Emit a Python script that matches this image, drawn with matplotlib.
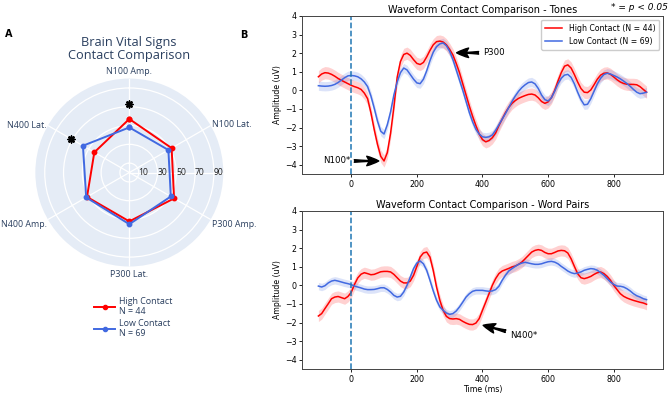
import numpy as np
import matplotlib
matplotlib.use("Agg")
import matplotlib.pyplot as plt
from matplotlib.lines import Line2D

# ---- radar data (panel A) ----
radar_labels = ["N100 Amp.", "N100 Lat.", "P300 Amp.", "P300 Lat.", "N400 Amp.", "N400 Lat."]
radar_high = [57, 52, 55, 52, 52, 43]
radar_low = [48, 48, 51, 55, 53, 57]
radar_ticks = [10, 30, 50, 70, 90]
star_idx = [0, 5]
star_r = [73, 72]

# ---- waveform data (panel B), 10 ms steps ----
time_ms = list(range(-100, 901, 10))

tones_high = [0.73, 0.88, 0.95, 0.93, 0.86, 0.76, 0.64, 0.54, 0.45, 0.36,
              0.27, 0.20, 0.14, 0.05, -0.15, -0.45, -1.2, -2.1, -2.9, -3.55,
              -3.8, -3.35, -2.3, -0.9, 0.7, 1.55, 1.93, 2.0, 1.88, 1.65,
              1.45, 1.39, 1.5, 1.8, 2.15, 2.45, 2.62, 2.65, 2.6, 2.45,
              2.2, 1.9, 1.45, 0.95, 0.35, -0.25, -0.85, -1.4, -1.9, -2.35,
              -2.65, -2.77, -2.7, -2.55, -2.3, -1.9, -1.55, -1.2, -0.92, -0.7,
              -0.55, -0.43, -0.35, -0.28, -0.22, -0.2, -0.25, -0.4, -0.6, -0.7,
              -0.62, -0.4, 0.0, 0.5, 0.95, 1.3, 1.37, 1.2, 0.85, 0.45,
              0.1, -0.1, -0.12, 0.02, 0.3, 0.6, 0.82, 0.92, 0.94, 0.86,
              0.72, 0.57, 0.45, 0.37, 0.33, 0.32, 0.32, 0.3, 0.2, 0.05,
              -0.1]
tones_low = [0.25, 0.23, 0.22, 0.23, 0.26, 0.32, 0.42, 0.55, 0.68, 0.78,
             0.8, 0.78, 0.73, 0.62, 0.45, 0.2, -0.3, -0.95, -1.65, -2.2,
             -2.35, -1.85, -1.15, -0.25, 0.45, 0.95, 1.2, 1.1, 0.85, 0.6,
             0.4, 0.36, 0.6, 1.05, 1.6, 2.05, 2.35, 2.5, 2.55, 2.4,
             2.1, 1.65, 1.1, 0.55, 0.0, -0.6, -1.2, -1.7, -2.1, -2.35,
             -2.5, -2.53, -2.5, -2.4, -2.15, -1.85, -1.55, -1.25, -0.92, -0.6,
             -0.3, -0.05, 0.15, 0.3, 0.42, 0.45, 0.35, 0.1, -0.25, -0.5,
             -0.57, -0.4, -0.05, 0.35, 0.65, 0.82, 0.86, 0.7, 0.35, -0.1,
             -0.5, -0.78, -0.75, -0.45, -0.05, 0.35, 0.65, 0.85, 0.92, 0.88,
             0.8, 0.72, 0.62, 0.5, 0.37, 0.22, 0.05, -0.1, -0.18, -0.15,
             -0.1]
words_high = [-1.65, -1.52, -1.25, -0.99, -0.72, -0.63, -0.6, -0.66, -0.72, -0.6,
              -0.38, 0.05, 0.4, 0.6, 0.68, 0.63, 0.57, 0.59, 0.66, 0.73,
              0.75, 0.75, 0.72, 0.59, 0.41, 0.23, 0.13, 0.13, 0.23, 0.54,
              1.02, 1.52, 1.74, 1.79, 1.52, 0.8, -0.09, -0.8, -1.34, -1.67,
              -1.79, -1.81, -1.79, -1.83, -1.94, -2.03, -2.1, -2.11, -2.03, -1.79,
              -1.34, -0.9, -0.45, 0.0, 0.36, 0.63, 0.77, 0.84, 0.91, 0.99,
              1.04, 1.13, 1.25, 1.43, 1.61, 1.79, 1.88, 1.92, 1.88, 1.77,
              1.7, 1.7, 1.77, 1.85, 1.88, 1.86, 1.74, 1.43, 1.02, 0.63,
              0.41, 0.36, 0.41, 0.48, 0.59, 0.68, 0.72, 0.63, 0.48, 0.27,
              0.0, -0.23, -0.45, -0.59, -0.68, -0.75, -0.81, -0.86, -0.91, -0.95,
              -1.02]
words_low = [-0.04, -0.09, -0.02, 0.13, 0.23, 0.27, 0.23, 0.18, 0.13, 0.09,
             0.04, -0.04, -0.09, -0.14, -0.2, -0.23, -0.23, -0.22, -0.18, -0.13,
             -0.13, -0.22, -0.36, -0.54, -0.63, -0.59, -0.36, 0.0, 0.45, 0.9,
             1.2, 1.31, 1.16, 0.81, 0.27, -0.3, -0.8, -1.16, -1.34, -1.49,
             -1.56, -1.52, -1.38, -1.16, -0.9, -0.63, -0.45, -0.32, -0.27, -0.27,
             -0.27, -0.3, -0.32, -0.3, -0.23, -0.05, 0.27, 0.54, 0.77, 0.9,
             1.02, 1.13, 1.2, 1.24, 1.2, 1.16, 1.13, 1.13, 1.16, 1.22,
             1.27, 1.29, 1.25, 1.16, 1.02, 0.9, 0.77, 0.68, 0.63, 0.66,
             0.72, 0.81, 0.86, 0.9, 0.88, 0.81, 0.68, 0.54, 0.36, 0.18,
             0.05, -0.04, -0.05, -0.09, -0.18, -0.3, -0.45, -0.56, -0.63, -0.72,
             -0.77]
se_tones_high = 0.33
se_tones_low = 0.25
se_words_high = 0.3
se_words_low = 0.2

RED = "#ff0000"
BLUE = "#4169e1"
PLOTLY_TXT = "#2a3f5f"

fig = plt.figure(figsize=(6.69, 3.94), dpi=100)

# ---------------- panel A: radar ----------------
ax = fig.add_axes([0.0528, 0.3236, 0.281, 0.477], projection="polar")
ax.set_facecolor("#e5ecf6")
ax.set_theta_zero_location("N")
ax.set_theta_direction(-1)
theta = np.linspace(0, 2 * np.pi, len(radar_labels), endpoint=False)
ax.set_ylim(0, 100)
ax.set_yticks(radar_ticks)
ax.set_yticklabels([])
ax.set_xticks(theta)
ax.set_xticklabels([])
ax.grid(color="white", lw=0.9)
ax.spines["polar"].set_visible(False)
ax.plot([np.pi / 2, np.pi / 2], [0, 100], color="white", lw=0.9)

for vals, c in [(radar_high, RED), (radar_low, BLUE)]:
    tt = np.append(theta, theta[0])
    vv = np.append(vals, vals[0])
    ax.plot(tt, vv, color=c, lw=1.4, marker="o", ms=3.2)

ax.scatter(theta[star_idx], star_r, marker=(8, 2, 0), s=22, color="black", lw=1.2, zorder=5)

for v in radar_ticks:
    ax.text(np.pi / 2, v + 5, str(v), ha="center", va="center", fontsize=6.2,
            color="#222222", family="Open Sans")

lab_pos = [("center", "bottom", 103), ("left", "center", 102), ("left", "top", 101),
           ("center", "top", 104), ("right", "top", 101), ("right", "center", 101)]
for th, lab, (ha, va, rr) in zip(theta, radar_labels, lab_pos):
    ax.text(th, rr, lab, ha=ha, va=va, fontsize=6.4, color=PLOTLY_TXT, family="Open Sans")

fig.text(129 / 669, 1 - 49 / 394, "Brain Vital Signs\nContact Comparison", ha="center",
         va="center", fontsize=9.2, color=PLOTLY_TXT, family="Open Sans", linespacing=1.0)

handles = [Line2D([0], [0], color=RED, lw=1.4, marker="o", ms=3),
           Line2D([0], [0], color=BLUE, lw=1.4, marker="o", ms=3)]
leg = fig.legend(handles, ["High Contact\nN = 44", "Low Contact\nN = 69"], loc="upper left",
                 bbox_to_anchor=(86 / 669, 1 - 289 / 394), frameon=False, handlelength=2.4,
                 prop={"family": "Open Sans", "size": 6.4}, labelspacing=0.3, handletextpad=0.4)
for t in leg.get_texts():
    t.set_color(PLOTLY_TXT)

fig.text(5 / 669, 1 - 34 / 394, "A", fontsize=7, fontweight="bold", va="center")
fig.text(240 / 669, 1 - 35 / 394, "B", fontsize=7, fontweight="bold", va="center")
fig.text(0.999, 1 - 7 / 394, "* = p < 0.05", fontsize=6.5, style="italic", ha="right", va="center")

# ---------------- panel B: waveforms ----------------
ax1 = fig.add_axes([0.4514, 0.5584, 0.5396, 0.401])
ax2 = fig.add_axes([0.4514, 0.0635, 0.5396, 0.401])

t = np.array(time_ms)
for a, hi, lo, seh, sel, title in [
        (ax1, tones_high, tones_low, se_tones_high, se_tones_low, "Waveform Contact Comparison - Tones"),
        (ax2, words_high, words_low, se_words_high, se_words_low, "Waveform Contact Comparison - Word Pairs")]:
    hi = np.array(hi)
    lo = np.array(lo)
    a.fill_between(t, hi - seh, hi + seh, color=RED, alpha=0.18, lw=0)
    a.fill_between(t, lo - sel, lo + sel, color=BLUE, alpha=0.18, lw=0)
    a.plot(t, hi, color=RED, lw=1.1, label="High Contact (N = 44)")
    a.plot(t, lo, color=BLUE, lw=1.1, label="Low Contact (N = 69)")
    a.axvline(0, color="#1f77b4", ls="--", lw=1.1)
    a.set_ylim(-4.5, 4)
    a.set_yticks(range(-4, 5))
    a.set_xticks([0, 200, 400, 600, 800])
    a.tick_params(labelsize=5.7, length=2.5, width=0.6, pad=1.5)
    a.set_ylabel("Amplitude (uV)", fontsize=5.6, labelpad=2)
    a.set_title(title, fontsize=7, pad=2)
    for s in a.spines.values():
        s.set_linewidth(0.7)
        s.set_color("#444444")

ax2.set_xlabel("Time (ms)", fontsize=5.7, labelpad=1)
ax1.legend(loc="upper right", fontsize=5.6, handlelength=2.2, borderpad=0.5, framealpha=1)

arrow = dict(arrowstyle="fancy,head_length=1.4,head_width=1.1,tail_width=0.3",
             fc="black", ec="black", shrinkA=1, shrinkB=0)
ax1.annotate("N100*", xy=(84, -3.8), xytext=(-45, -3.8), ha="center", va="center",
             fontsize=6.2, arrowprops=arrow)
ax1.annotate("P300", xy=(321, 2.02), xytext=(401, 2.02), ha="left", va="center",
             fontsize=6.2, arrowprops=arrow)
ax2.annotate("N400*", xy=(402, -2.15), xytext=(483, -2.72), ha="left", va="center",
             fontsize=6.2, arrowprops=arrow)

fig.savefig("out.png", dpi=100)
